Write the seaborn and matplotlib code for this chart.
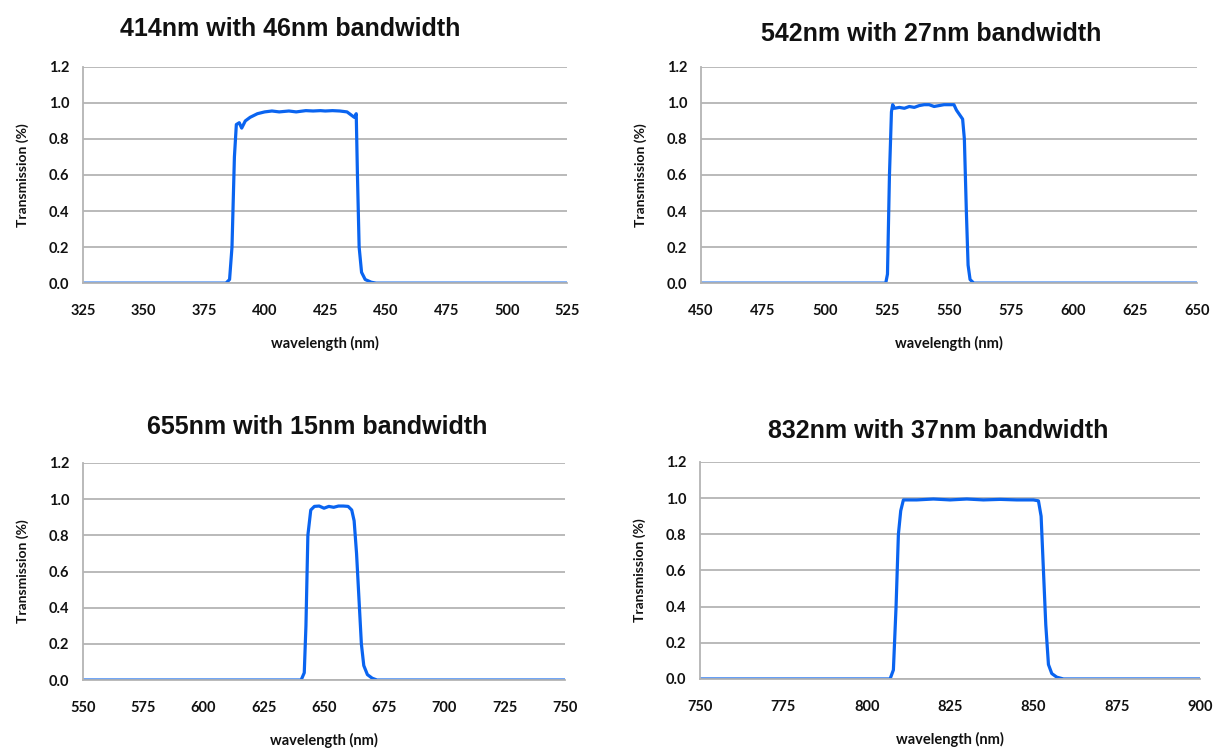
import pandas as pd
import seaborn as sns
import matplotlib.pyplot as plt

# filter transmission curves (wavelength nm, transmission)
wl_414 = [325, 384, 385.5, 386.5, 387.5, 388.3, 389.5, 390.5, 392, 394, 397, 400, 403, 406, 410,
          413, 417, 420, 423, 425, 428, 431, 434, 436, 437, 437.8, 438.3, 439, 440, 441.5, 444, 446, 525]
tr_414 = [0, 0, 0.02, 0.2, 0.7, 0.88, 0.89, 0.86, 0.9, 0.92, 0.94, 0.95, 0.955, 0.95, 0.955,
          0.95, 0.957, 0.955, 0.957, 0.955, 0.957, 0.955, 0.95, 0.93, 0.92, 0.94, 0.6, 0.2, 0.06, 0.02, 0.005, 0, 0]

wl_542 = [450, 524.5, 525.2, 526, 526.8, 527.3, 528, 530, 532, 534, 536, 538, 540, 542, 544, 546,
          548, 550, 552, 553, 554.5, 555.5, 556.2, 557, 557.7, 558.5, 560, 650]
tr_542 = [0, 0, 0.05, 0.6, 0.95, 0.99, 0.97, 0.975, 0.97, 0.98, 0.975, 0.985, 0.99, 0.99, 0.98, 0.985,
          0.99, 0.99, 0.99, 0.96, 0.93, 0.91, 0.8, 0.4, 0.1, 0.02, 0, 0]

wl_655 = [550, 640.5, 641.8, 642.5, 643.3, 644.5, 646, 648, 650, 652, 654, 656, 658, 660, 661.5,
          662.5, 663.5, 664.5, 665.5, 666.5, 668, 670, 672, 750]
tr_655 = [0, 0, 0.04, 0.3, 0.8, 0.94, 0.96, 0.962, 0.95, 0.96, 0.955, 0.962, 0.962, 0.96, 0.94,
          0.88, 0.7, 0.45, 0.2, 0.08, 0.03, 0.01, 0, 0]

wl_832 = [750, 807, 808, 808.8, 809.5, 810.2, 811, 815, 820, 825, 830, 835, 840, 845, 850, 851.5,
          852.3, 853, 853.7, 854.5, 855.5, 857, 859, 900]
tr_832 = [0, 0, 0.05, 0.4, 0.8, 0.93, 0.99, 0.99, 0.995, 0.99, 0.995, 0.99, 0.993, 0.99, 0.99, 0.985,
          0.9, 0.6, 0.3, 0.08, 0.03, 0.01, 0, 0]

titles = ["414nm with 46nm bandwidth", "542nm with 27nm bandwidth",
          "655nm with 15nm bandwidth", "832nm with 37nm bandwidth"]
x_ranges = [(325, 525), (450, 650), (550, 750), (750, 900)]
curves = [(wl_414, tr_414), (wl_542, tr_542), (wl_655, tr_655), (wl_832, tr_832)]

sns.set_theme(style="white")
plt.rcParams['font.family'] = ['Lato', 'DejaVu Sans']

fig = plt.figure(figsize=(12.14, 7.51), dpi=100)

# axes boxes [left, bottom, width, height]
boxes = [[0.0684, 0.623, 0.399, 0.288],
         [0.5774, 0.623, 0.4086, 0.288],
         [0.0684, 0.0945, 0.397, 0.289],
         [0.5766, 0.0959, 0.412, 0.289]]
title_pos = [(290 / 1214, 1 - 29 / 751), (931 / 1214, 1 - 34 / 751),
             (317 / 1214, 1 - 427 / 751), (938 / 1214, 1 - 431 / 751)]

for i in range(4):
    ax = fig.add_axes(boxes[i])
    wl, tr = curves[i]
    df = pd.DataFrame({'wavelength': wl, 'transmission': tr})
    sns.lineplot(data=df, x='wavelength', y='transmission', ax=ax,
                 color='#0a64f0', linewidth=2.3)
    lo, hi = x_ranges[i]
    ax.set_xlim(lo, hi)
    ax.set_ylim(0, 1.2)
    ax.set_xticks(range(lo, hi + 1, 25))
    ax.set_yticks([0, 0.2, 0.4, 0.6, 0.8, 1.0, 1.2])
    ax.set_yticklabels([f"{v:.1f}" for v in [0, 0.2, 0.4, 0.6, 0.8, 1.0, 1.2]])
    ax.yaxis.grid(True, color='#b4b4b4', linewidth=1.3)
    ax.set_axisbelow(True)
    for s in ['top', 'right']:
        ax.spines[s].set_visible(False)
    for s in ['left', 'bottom']:
        ax.spines[s].set_color('#b4b4b4')
        ax.spines[s].set_linewidth(1.3)
    ax.tick_params(axis='both', which='both', direction='out', length=4, width=1,
                   color='#b4b4b4', labelsize=10.5, labelcolor='#111111')
    ax.tick_params(axis='x', pad=11)
    ax.tick_params(axis='y', pad=6)
    for lab in ax.get_xticklabels() + ax.get_yticklabels():
        lab.set_fontweight('bold')
    ax.set_xlabel('wavelength (nm)', fontsize=10.5, fontweight='bold', labelpad=13, color='#111111')
    ax.set_ylabel('Transmission (%)', fontsize=10, fontweight='bold', labelpad=14, color='#111111')
    fig.text(title_pos[i][0], title_pos[i][1], titles[i], ha='center', va='center',
             fontsize=18, fontweight='bold', family='Liberation Sans', color='#111111')

fig.savefig('out.png', dpi=100, facecolor='white')
